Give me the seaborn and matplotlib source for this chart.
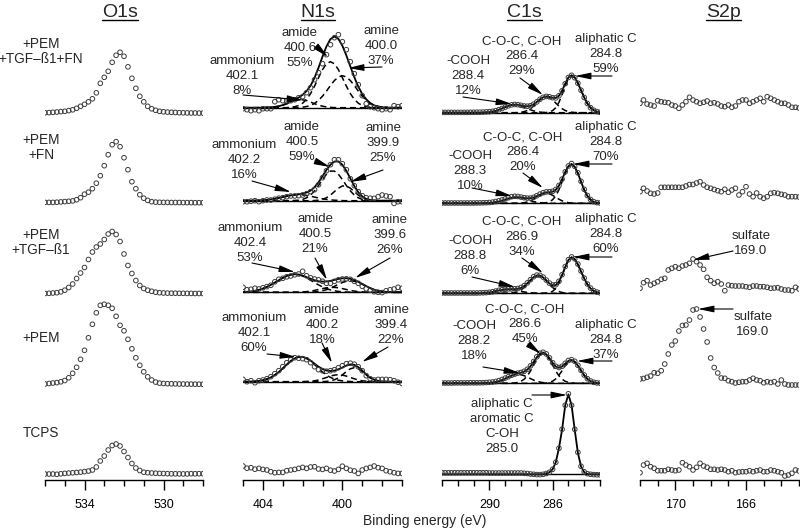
import numpy as np
import matplotlib
matplotlib.use("Agg")
import matplotlib.pyplot as plt
from matplotlib.lines import Line2D
import seaborn as sns

# binding energy grids (eV), 0.2 eV steps, high -> low
o1s_ev = np.linspace(536.0, 528.0, 41)
n1s_ev = np.linspace(405.0, 397.0, 41)
c1s_ev = np.linspace(293.0, 283.0, 51)
s2p_ev = np.linspace(172.0, 163.0, 46)

samples = ["+PEM\n+TGF–ß1+FN", "+PEM\n+FN", "+PEM\n+TGF–ß1", "+PEM", "TCPS"]

# ---------------- O1s (counts, arbitrary units) ----------------
o1s_fn_tgf = [0.5, 0.7, 1.0, 1.3, 1.7, 2.0, 2.7, 3.5, 5.0, 7.0,
              9.0, 11.5, 14.5, 20.5, 30.0, 36.0, 42.0, 51.0, 58.0, 61.0,
              57.0, 46.5, 35.0, 25.0, 17.0, 11.5, 7.0, 4.5, 3.0, 2.0,
              1.5, 1.2, 1.0, 0.8, 0.6, 0.5, 0.4, 0.3, 0.3, 0.2,
              0.2]
o1s_fn = [0.3, 0.3, 0.3, 0.5, 0.8, 1.1, 1.4, 1.8, 3.0, 5.0,
          8.5, 10.5, 14.0, 19.5, 27.0, 37.0, 48.0, 58.0, 61.0, 56.0,
          45.0, 33.0, 21.0, 14.0, 8.0, 4.5, 2.3, 1.0, 0.6, 0.4,
          0.3, 0.3, 0.2, 0.2, 0.2, 0.1, 0.1, 0.1, 0.0, 0.0,
          0.0]
o1s_tgf = [0.0, 0.2, 0.5, 0.8, 1.7, 3.3, 6.0, 9.5, 15.0, 20.5,
           26.0, 34.0, 41.5, 46.5, 49.5, 54.0, 59.5, 62.0, 59.0, 52.0,
           39.5, 28.0, 20.0, 13.0, 8.0, 5.0, 3.3, 2.2, 1.3, 0.8,
           0.5, 0.4, 0.3, 0.3, 0.2, 0.2, 0.1, 0.1, 0.0, 0.0,
           0.0]
o1s_pem = [0.3, 0.8, 1.3, 1.7, 2.5, 3.8, 6.5, 11.0, 17.0, 25.0,
           34.0, 46.5, 60.0, 71.5, 79.0, 80.0, 79.0, 76.0, 68.0, 59.0,
           53.5, 45.0, 35.5, 26.5, 19.0, 12.5, 7.5, 4.3, 2.2, 1.2,
           0.8, 0.6, 0.5, 0.4, 0.3, 0.3, 0.2, 0.2, 0.1, 0.1,
           0.0]
o1s_tcps = [0.0, 0.0, 0.0, -0.3, 0.2, 0.6, 0.9, 1.2, 1.5, 1.9,
            2.4, 3.0, 4.0, 7.0, 13.0, 18.0, 24.0, 28.5, 30.0, 28.0,
            22.5, 16.5, 10.5, 6.0, 3.5, 1.8, 1.3, 1.0, 0.8, 0.6,
            0.5, 0.3, 0.2, 0.2, 0.1, 0.1, 0.1, 0.3, 0.2, 0.3,
            0.3]

# ---------------- N1s ----------------
n1s_fn_tgf = [-1, -2, -3, -2, -3, -1, -1, -1, 6, 8,
              7, 7, 7, 8, 10, 11, 15, 20, 28, 35,
              44, 53, 63, 70, 73, 66, 58, 46, 34, 23,
              12, 4, 1, 0, -1, -2, -1, -2, 2, 1,
              2]
n1s_fn = [-1, -1, -0.5, 0, -1, 0, 0.7, 0.7, 1.5, 2.5,
          3, 4, 4.7, 4.7, 5, 5.7, 7, 9, 11, 16,
          23, 30, 36, 41, 41, 37, 31, 22, 15, 9,
          5, 3, 2.5, 2.3, 4, 5.7, 4.7, 4, -2.7, -1,
          -1]
n1s_tgf = [5, 2.5, 3, 4, 3.3, 4.5, 5.7, 7, 10.5, 13,
           14, 15.5, 16.3, 17.5, 18.3, 21, 16.5, 14.5, 13.3, 12.5,
           11, 9, 9, 11, 12.5, 13.3, 13.5, 13, 11, 9,
           6, 3.5, 2, 0.5, 0, -0.3, 1.5, 2.5, 3.3, 5,
           4]
n1s_pem = [2.3, 0, 1, -1, 1, 1.7, 3, 5, 8, 11,
           15, 19, 22, 24, 23.5, 23, 22, 19, 15, 12,
           11, 10.5, 11, 12, 14, 16, 18, 18.5, 17.5, 15,
           11, 6, 3, 1.7, 2.3, 2.3, 2.3, 2, 1, -0.5,
           -1.7]
n1s_tcps = [5.7, 3.5, 4, 2.5, 3.3, 2.3, 1.7, 0, -1, -0.7,
            -0.7, 1, 1.7, 2.3, 3.3, 4.3, 3.3, 4.7, 5, 2.7,
            2.3, 3.3, 1.5, 0.7, 2.3, 5.5, 3.3, 1.5, 0.7, -1.7,
            1.7, 3.3, 4.3, 5.7, 4, 3.3, 1, 0, -1, -1.7,
            -1.7]

# fitted N1s components: ammonium, amide, amine
n1s_amm_1 = [0, 0, 0, 0, 0, 0, 0.1, 0.4, 0.8, 1.5,
             2.6, 4.0, 5.7, 7.1, 7.9, 7.9, 7.1, 5.7, 4.0, 2.6,
             1.5, 0.8, 0.4, 0.1, 0, 0, 0, 0, 0, 0,
             0, 0, 0, 0, 0, 0, 0, 0, 0, 0,
             0]
n1s_amide_1 = [0, 0, 0, 0, 0, 0, 0, 0, 0, 0,
               0, 0, 0.4, 1.0, 2.2, 4.5, 8.4, 14.1, 21.6, 30.0,
               38.1, 43.9, 46.0, 43.9, 38.1, 30.0, 21.6, 14.1, 8.4, 4.5,
               2.2, 1.0, 0.4, 0, 0, 0, 0, 0, 0, 0,
               0]
n1s_amine_1 = [0, 0, 0, 0, 0, 0, 0, 0, 0, 0,
               0, 0, 0, 0, 0, 0.5, 1.2, 2.3, 4.3, 7.4,
               11.5, 16.6, 22.2, 27.2, 30.7, 32.0, 30.7, 27.2, 22.2, 16.6,
               11.5, 7.4, 4.3, 2.3, 1.2, 0.5, 0, 0, 0, 0,
               0]
n1s_amm_2 = [0, 0, 0, 0.1, 0.3, 0.5, 0.8, 1.3, 2.0, 2.7,
             3.6, 4.5, 5.3, 5.8, 6.0, 5.8, 5.3, 4.5, 3.6, 2.7,
             2.0, 1.3, 0.8, 0.5, 0.3, 0.1, 0, 0, 0, 0,
             0, 0, 0, 0, 0, 0, 0, 0, 0, 0,
             0]
n1s_amide_2 = [0, 0, 0, 0, 0, 0, 0, 0, 0, 0,
               0, 0, 0, 0.2, 0.5, 1.3, 2.9, 5.6, 9.8, 15.2,
               21.2, 26.5, 29.6, 29.6, 26.5, 21.2, 15.2, 9.8, 5.6, 2.9,
               1.3, 0.5, 0.2, 0, 0, 0, 0, 0, 0, 0,
               0]
n1s_amine_2 = [0, 0, 0, 0, 0, 0, 0, 0, 0, 0,
               0, 0, 0, 0, 0, 0, 0, 0, 0.2, 0.5,
               1.3, 3.0, 5.6, 9.1, 12.5, 14.7, 14.7, 12.5, 9.1, 5.6,
               3.0, 1.3, 0.5, 0.2, 0, 0, 0, 0, 0, 0,
               0]
n1s_amm_3 = [0.3, 0.5, 0.9, 1.5, 2.4, 3.7, 5.4, 7.4, 9.7, 12.1,
             14.4, 16.3, 17.6, 18.0, 17.6, 16.3, 14.4, 12.1, 9.7, 7.4,
             5.4, 3.7, 2.4, 1.5, 0.9, 0.5, 0.3, 0.1, 0, 0,
             0, 0, 0, 0, 0, 0, 0, 0, 0, 0,
             0]
n1s_amide_3 = [0, 0, 0, 0, 0, 0, 0, 0, 0, 0,
               0, 0, 0, 0.1, 0.2, 0.4, 0.7, 1.2, 1.9, 2.8,
               3.7, 4.5, 4.9, 4.9, 4.5, 3.7, 2.8, 1.9, 1.2, 0.7,
               0.4, 0.2, 0.1, 0, 0, 0, 0, 0, 0, 0,
               0]
n1s_amine_3 = [0, 0, 0, 0, 0, 0, 0, 0, 0, 0,
               0, 0, 0, 0, 0, 0, 0, 0.2, 0.4, 0.8,
               1.6, 2.6, 4.1, 6.0, 8.0, 9.8, 11.0, 11.5, 11.0, 9.8,
               8.0, 6.0, 4.1, 2.6, 1.6, 0.8, 0.4, 0.2, 0, 0,
               0]
n1s_amm_4 = [0, 0, 0.2, 0.4, 0.8, 1.5, 2.6, 4.3, 6.7, 9.7,
             13.3, 17.1, 20.6, 23.3, 24.8, 24.8, 23.3, 20.6, 17.1, 13.3,
             9.7, 6.7, 4.3, 2.6, 1.5, 0.8, 0.4, 0.2, 0, 0,
             0, 0, 0, 0, 0, 0, 0, 0, 0, 0,
             0]
n1s_amide_4 = [0, 0, 0, 0, 0, 0, 0, 0, 0, 0,
               0, 0, 0, 0, 0, 0.1, 0.2, 0.5, 0.9, 1.7,
               2.9, 4.2, 5.6, 6.6, 7.0, 6.6, 5.6, 4.2, 2.9, 1.7,
               0.9, 0.5, 0.2, 0.1, 0, 0, 0, 0, 0, 0,
               0]
n1s_amine_4 = [0, 0, 0, 0, 0, 0, 0, 0, 0, 0,
               0, 0, 0, 0, 0, 0, 0, 0, 0, 0,
               0.1, 0.3, 0.8, 1.9, 3.9, 6.8, 10.2, 12.9, 14.0, 12.9,
               10.2, 6.8, 3.9, 1.9, 0.8, 0.3, 0.1, 0, 0, 0,
               0]

n1s_peaks = [
    [("ammonium", 402.1, 8), ("amide", 400.6, 55), ("amine", 400.0, 37)],
    [("ammonium", 402.2, 16), ("amide", 400.5, 59), ("amine", 399.9, 25)],
    [("ammonium", 402.4, 53), ("amide", 400.5, 21), ("amine", 399.6, 26)],
    [("ammonium", 402.1, 60), ("amide", 400.2, 18), ("amine", 399.4, 22)],
]

# ---------------- C1s ----------------
c1s_fn_tgf = [0.3, 0.3, 0.3, 0.3, 0.3, 0.3, 0.3, 0.3, 0.3, 0.4,
              0.4, 0.5, 0.5, 0.6, 0.8, 1.0, 1.4, 2.0, 3.0, 4.2,
              5.6, 6.9, 7.8, 8.2, 8.0, 7.4, 6.7, 6.5, 7.0, 8.5,
              10.8, 13.4, 15.4, 16.3, 15.9, 15.0, 14.8, 17.0, 22.0, 29.0,
              35.2, 37.4, 35.0, 29.5, 22.5, 15.2, 9.2, 5.0, 2.5, 1.1,
              0.4]
c1s_fn = [0.3, 0.3, 0.3, 0.3, 0.3, 0.3, 0.3, 0.3, 0.3, 0.3,
          0.3, 0.4, 0.4, 0.5, 0.6, 0.8, 1.2, 1.8, 2.5, 3.4,
          4.4, 5.6, 6.6, 7.0, 6.8, 6.2, 5.6, 5.2, 5.2, 6.0,
          7.6, 9.2, 10.6, 11.4, 11.5, 12.0, 13.8, 17.8, 24.2, 31.5,
          37.3, 39.8, 37.0, 30.5, 22.0, 14.0, 7.8, 3.8, 1.6, 0.7,
          0.3]
c1s_tgf = [0.3, 0.3, 0.3, 0.3, 0.3, 0.3, 0.3, 0.3, 0.3, 0.3,
           0.3, 0.3, 0.4, 0.5, 0.7, 1.0, 1.5, 2.2, 3.0, 3.6,
           4.0, 4.4, 4.3, 4.5, 4.8, 5.8, 7.6, 10.4, 13.6, 16.6,
           18.2, 18.0, 16.2, 13.2, 10.2, 8.3, 8.6, 12.0, 18.6, 26.8,
           33.6, 36.4, 34.5, 29.2, 22.3, 15.2, 9.3, 5.2, 2.6, 1.2,
           0.5]
c1s_pem = [0.3, 0.3, 0.3, 0.3, 0.4, 0.4, 0.4, 0.4, 0.4, 0.5,
           0.5, 0.5, 0.5, 0.6, 0.8, 1.0, 1.3, 1.8, 2.7, 3.8,
           5.2, 6.6, 8.0, 9.2, 10.2, 10.8, 12.0, 14.0, 17.4, 21.8,
           26.5, 30.0, 31.0, 29.4, 25.4, 20.6, 17.0, 15.8, 17.0, 20.0,
           22.8, 23.6, 22.0, 18.0, 13.0, 8.3, 4.6, 2.3, 1.0, 0.4,
           0.2]
c1s_tcps = [1.5, 1.5, 1.5, 1.5, 1.5, 1.5, 1.5, 1.5, 1.5, 1.5,
            1.5, 1.5, 1.5, 1.5, 1.5, 1.3, 1.3, 1.3, 1.3, 1.3,
            1.3, 1.3, 1.3, 1.3, 1.3, 1.3, 1.0, 0.8, 0.3, 0.0,
            -0.3, -0.3, 0.0, 0.8, 2.0, 5.0, 12.0, 26.0, 45.0, 69.0,
            80.5, 69.0, 45.0, 22.0, 8.0, 2.5, 0.6, 0.0, -0.3, -0.5,
            -0.5]

# fitted C1s components: -COOH, C-O-C/C-OH, aliphatic C
c1s_cooh_1 = [0, 0, 0, 0, 0, 0, 0, 0, 0, 0,
              0, 0, 0, 0.1, 0.3, 0.6, 1.1, 1.8, 2.9, 4.2,
              5.5, 6.8, 7.7, 8.0, 7.7, 6.8, 5.5, 4.2, 2.9, 1.8,
              1.1, 0.6, 0.3, 0.1, 0, 0, 0, 0, 0, 0,
              0, 0, 0, 0, 0, 0, 0, 0, 0, 0,
              0]
c1s_coc_1 = [0, 0, 0, 0, 0, 0, 0, 0, 0, 0,
             0, 0, 0, 0, 0, 0, 0, 0, 0, 0,
             0, 0, 0, 0, 0.2, 0.5, 1.1, 2.2, 4.0, 6.6,
             9.7, 12.8, 15.1, 16.0, 15.1, 12.8, 9.7, 6.6, 4.0, 2.2,
             1.1, 0.5, 0.2, 0, 0, 0, 0, 0, 0, 0,
             0]
c1s_ali_1 = [0, 0, 0, 0, 0, 0, 0, 0, 0, 0,
             0, 0, 0, 0, 0, 0, 0, 0, 0, 0,
             0, 0, 0, 0, 0, 0, 0, 0, 0, 0,
             0, 0, 0, 0.2, 0.7, 2.1, 5.0, 10.3, 18.0, 26.9,
             34.2, 37.0, 35.1, 29.6, 22.5, 15.2, 9.2, 5.0, 2.5, 1.1,
             0.4]
c1s_cooh_2 = [0, 0, 0, 0, 0, 0, 0, 0, 0, 0,
              0, 0, 0, 0, 0.2, 0.3, 0.6, 1.1, 1.7, 2.6,
              3.6, 4.7, 5.5, 5.9, 5.9, 5.5, 4.7, 3.6, 2.6, 1.7,
              1.1, 0.6, 0.3, 0.2, 0, 0, 0, 0, 0, 0,
              0, 0, 0, 0, 0, 0, 0, 0, 0, 0,
              0]
c1s_coc_2 = [0, 0, 0, 0, 0, 0, 0, 0, 0, 0,
             0, 0, 0, 0, 0, 0, 0, 0, 0, 0,
             0, 0, 0, 0, 0.1, 0.3, 0.6, 1.4, 2.5, 4.1,
             6.1, 8.0, 9.5, 10.0, 9.5, 8.0, 6.1, 4.1, 2.5, 1.4,
             0.6, 0.3, 0.1, 0, 0, 0, 0, 0, 0, 0,
             0]
c1s_ali_2 = [0, 0, 0, 0, 0, 0, 0, 0, 0, 0,
             0, 0, 0, 0, 0, 0, 0, 0, 0, 0,
             0, 0, 0, 0, 0, 0, 0, 0, 0, 0,
             0, 0, 0.2, 0.6, 1.5, 3.6, 7.4, 13.5, 21.5, 30.0,
             36.5, 39.0, 36.5, 30.0, 21.5, 13.5, 7.4, 3.6, 1.5, 0.6,
             0.2]
c1s_cooh_3 = [0, 0, 0, 0, 0, 0, 0, 0, 0, 0,
              0, 0, 0.1, 0.3, 0.5, 0.9, 1.4, 2.1, 2.8, 3.4,
              3.8, 4.0, 3.8, 3.4, 2.8, 2.1, 1.4, 0.9, 0.5, 0.3,
              0.1, 0, 0, 0, 0, 0, 0, 0, 0, 0,
              0, 0, 0, 0, 0, 0, 0, 0, 0, 0,
              0]
c1s_coc_3 = [0, 0, 0, 0, 0, 0, 0, 0, 0, 0,
             0, 0, 0, 0, 0, 0, 0, 0, 0, 0,
             0, 0.1, 0.3, 0.8, 1.7, 3.3, 5.9, 9.1, 12.7, 15.9,
             17.7, 17.7, 15.9, 12.7, 9.1, 5.9, 3.3, 1.7, 0.8, 0.3,
             0.1, 0, 0, 0, 0, 0, 0, 0, 0, 0,
             0]
c1s_ali_3 = [0, 0, 0, 0, 0, 0, 0, 0, 0, 0,
             0, 0, 0, 0, 0, 0, 0, 0, 0, 0,
             0, 0, 0, 0, 0, 0, 0, 0, 0, 0,
             0, 0, 0, 0.2, 0.7, 2.0, 4.9, 10.0, 17.5, 26.1,
             33.2, 36.0, 34.1, 28.8, 21.9, 14.8, 9.0, 4.9, 2.4, 1.0,
             0.4]
c1s_cooh_4 = [0, 0, 0, 0, 0, 0, 0, 0, 0, 0,
              0, 0, 0, 0.1, 0.2, 0.3, 0.7, 1.2, 2.1, 3.2,
              4.7, 6.2, 7.6, 8.6, 9.0, 8.6, 7.6, 6.2, 4.7, 3.2,
              2.1, 1.2, 0.7, 0.3, 0.2, 0.1, 0, 0, 0, 0,
              0, 0, 0, 0, 0, 0, 0, 0, 0, 0,
              0]
c1s_coc_4 = [0, 0, 0, 0, 0, 0, 0, 0, 0, 0,
             0, 0, 0, 0, 0, 0, 0, 0, 0, 0,
             0, 0, 0.1, 0.3, 0.9, 2.0, 4.1, 7.5, 12.3, 18.2,
             24.0, 28.4, 30.0, 28.4, 24.0, 18.2, 12.3, 7.5, 4.1, 2.0,
             0.9, 0.3, 0.1, 0, 0, 0, 0, 0, 0, 0,
             0]
c1s_ali_4 = [0, 0, 0, 0, 0, 0, 0, 0, 0, 0,
             0, 0, 0, 0, 0, 0, 0, 0, 0, 0,
             0, 0, 0, 0, 0, 0, 0, 0, 0, 0,
             0, 0, 0.1, 0.3, 0.9, 2.1, 4.4, 8.0, 12.7, 17.7,
             21.5, 23.0, 21.5, 17.7, 12.7, 8.0, 4.4, 2.1, 0.9, 0.3,
             0.1]
c1s_fit_tcps = [0, 0, 0, 0, 0, 0, 0, 0, 0, 0,
                0, 0, 0, 0, 0, 0, 0, 0, 0, 0,
                0, 0, 0, 0, 0, 0, 0, 0, 0, 0,
                0, 0, 0, 1.0, 2.0, 5.0, 12.0, 26.0, 44.6, 69.1,
                80.0, 69.1, 44.6, 21.5, 7.8, 2.1, 0.4, 0, 0, 0,
                0]

c1s_peaks = [
    [("-COOH", 288.4, 12), ("C-O-C, C-OH", 286.4, 29), ("aliphatic C", 284.8, 59)],
    [("-COOH", 288.3, 10), ("C-O-C, C-OH", 286.4, 20), ("aliphatic C", 284.8, 70)],
    [("-COOH", 288.8, 6), ("C-O-C, C-OH", 286.9, 34), ("aliphatic C", 284.8, 60)],
    [("-COOH", 288.2, 18), ("C-O-C, C-OH", 286.6, 45), ("aliphatic C", 284.8, 37)],
]
c1s_tcps_label = "aliphatic C\naromatic C\nC-OH\n285.0"

# ---------------- S2p ----------------
s2p_fn_tgf = [6.7, 10, 6, 5, 4, 9.3, 8.3, 7.7, 7.3, 5,
              4, 1.7, 5, 8.3, 12.7, 10, 8.3, 6.7, 7.7, 9,
              6.7, 7.3, 6, 4, 3.3, 5, 2.7, 4, 8.3, 10,
              10, 6.7, 8.3, 10, 11.7, 8.3, 13.3, 11.7, 10, 8.3,
              6.7, 6.7, 5, 2.7, 2.7, 2]
s2p_fn = [8.3, 11.7, 9, 6.7, 6, 7, 12.7, 12.7, 12.7, 12.7,
          12.7, 12.7, 12.7, 14, 15.5, 15.5, 17, 18.3, 15, 12.7,
          11.7, 10.5, 9.3, 8.3, 10.7, 7.7, 10, 11.7, 5, 8.3,
          13.3, 6, 3.3, 7, 3.3, 1.7, 3.3, 6.7, 7.3, 6.7,
          5.7, 5, 3.3, 3.3, 3.3, 3]
s2p_tgf = [3.7, 9.3, 11.3, 7, 8.7, 10.3, 12.7, 13.7, 22, 23.7,
           25.3, 23.7, 26, 27, 28.7, 33, 30.3, 27, 22.7, 14.7,
           11.3, 8.7, 10.3, 8, 1.3, 7, 6.3, 6, 6, 6,
           5.3, 4.7, 6, 6, 5.3, 5.3, 4.7, 3.7, 4, 4.3,
           3, 2, 2, 1.3, 4.7, 3]
s2p_pem = [5, 5.5, 6.7, 8, 11.3, 10.7, 13.3, 20, 30, 39,
           43, 53, 58.5, 59, 64, 74, 75, 67, 55, 42,
           26, 16.5, 11, 6, 5.7, 3.3, 2.3, 1, 1.7, 2.3,
           2.3, 4, 5.7, 4, 3.3, 1.3, 2.3, 1.5, 2.3, 0,
           4, 0, -1, -1, -1, -1]
s2p_tcps = [2.3, 10, 11.7, 8.3, 6.7, 4.3, 4.3, 4.3, 5.7, 5,
            4.3, 5, 12.3, 10, 8.3, 5, 7.7, 11.7, 9, 7.7,
            5.7, 5.7, 5, 5.7, 5, 3.3, 4.3, 2.3, 3, 3.3,
            3.3, 4.3, 3.3, 4.3, 5, 3.3, 3.3, 5, 4.3, 3.3,
            2.3, -1, 0, 1.7, 5, 4]
sulfate_ev = 169.0

# ---------------- layout (pixels from top-left of an 800x531 canvas) ----------------
W, H = 800, 531
AXIS_Y = 480
LINE_STEP = 15
base_o1s = [113.3, 202.7, 293.5, 384.3, 474.0]
base_n1s = [107.7, 200.7, 292.3, 381.7, 471.7]
base_c1s = [112.7, 203.3, 293.3, 383.3, 474.3]
base_s2p = [110.0, 200.0, 292.0, 384.0, 475.0]

sns.set_theme(style="ticks")
plt.rcParams["font.family"] = ["Liberation Sans", "DejaVu Sans"]

fig = plt.figure(figsize=(W / 100, H / 100), dpi=100)


def fpx(x, y):
    return (x, H - y)


def make_axes(left, width, xlim, major, minor):
    ax = fig.add_axes([left / W, (H - AXIS_Y) / H, width / W, AXIS_Y / H])
    ax.set_xlim(*xlim)
    ax.set_ylim(0, AXIS_Y)
    for s in ["left", "top", "right"]:
        ax.spines[s].set_visible(False)
    ax.spines["bottom"].set_linewidth(1.0)
    ax.spines["bottom"].set_color("black")
    ax.set_yticks([])
    ax.set_xticks(major)
    ax.set_xticklabels([str(m) for m in major], fontsize=9)
    ax.set_xticks(minor, minor=True)
    ax.tick_params(axis="x", which="major", bottom=True, direction="out",
                   length=7, width=1, pad=7, colors="black")
    ax.tick_params(axis="x", which="minor", bottom=True, direction="out",
                   length=4, width=1, colors="black")
    ax.patch.set_alpha(0)
    return ax


def draw_points(ax, ev, vals, base):
    off = AXIS_Y - base
    sns.scatterplot(x=ev, y=np.asarray(vals, float) + off, ax=ax, marker="o", s=11,
                    facecolors="none", edgecolor="#3c3c3c", linewidth=0.7,
                    legend=False, zorder=3)


def draw_fit(ax, ev, comps, base, dashed=True):
    off = AXIS_Y - base
    sns.lineplot(x=[ev[0], ev[-1]], y=[off, off], ax=ax, color="black", lw=1.0,
                 estimator=None, sort=False)
    if dashed:
        for c in comps:
            sns.lineplot(x=ev, y=np.asarray(c, float) + off, ax=ax, color="black",
                         lw=1.1, estimator=None, sort=False)
            ax.lines[-1].set_dashes([4, 2.5])
    env = np.sum(np.asarray(comps, float), axis=0)
    sns.lineplot(x=ev, y=env + off, ax=ax, color="black", lw=1.3,
                 estimator=None, sort=False)


def text_lines(txt, cx, cy, fs):
    # one text per line, 15 px apart, block centred on cy
    lines = txt.split("\n")
    n = len(lines)
    for k, s in enumerate(lines):
        y = cy + (k - (n - 1) / 2) * LINE_STEP
        fig.text(cx / W, 1 - y / H, s, ha="center", va="center", fontsize=fs)


def label(ax, txt, center, tail=None, tip=None, fs=9.5):
    text_lines(txt, center[0], center[1], fs)
    if tail is not None:
        ax.annotate("", xy=fpx(*tip), xytext=fpx(*tail), xycoords="figure pixels",
                    textcoords="figure pixels", annotation_clip=False,
                    arrowprops=dict(arrowstyle="-|>,head_length=0.95,head_width=0.2",
                                    color="black", lw=0.8, shrinkA=0, shrinkB=0,
                                    mutation_scale=10))


ax_o = make_axes(45, 158, (536, 528), [534, 530], np.arange(528, 537))
ax_n = make_axes(243, 159, (405, 397), [404, 400], np.arange(397, 406))
ax_c = make_axes(442, 158, (293, 283), [290, 286], np.arange(283, 294))
ax_s = make_axes(640, 159, (172, 163), [170, 166], np.arange(163, 173))

# O1s
for vals, b in zip([o1s_fn_tgf, o1s_fn, o1s_tgf, o1s_pem, o1s_tcps], base_o1s):
    draw_points(ax_o, o1s_ev, vals, b)

# N1s
n1s_data = [n1s_fn_tgf, n1s_fn, n1s_tgf, n1s_pem]
n1s_comps = [[n1s_amm_1, n1s_amide_1, n1s_amine_1],
             [n1s_amm_2, n1s_amide_2, n1s_amine_2],
             [n1s_amm_3, n1s_amide_3, n1s_amine_3],
             [n1s_amm_4, n1s_amide_4, n1s_amine_4]]
for vals, comps, b in zip(n1s_data, n1s_comps, base_n1s):
    draw_fit(ax_n, n1s_ev, comps, b)
    draw_points(ax_n, n1s_ev, vals, b)
draw_points(ax_n, n1s_ev, n1s_tcps, base_n1s[4])

# C1s
c1s_data = [c1s_fn_tgf, c1s_fn, c1s_tgf, c1s_pem]
c1s_comps = [[c1s_cooh_1, c1s_coc_1, c1s_ali_1],
             [c1s_cooh_2, c1s_coc_2, c1s_ali_2],
             [c1s_cooh_3, c1s_coc_3, c1s_ali_3],
             [c1s_cooh_4, c1s_coc_4, c1s_ali_4]]
for vals, comps, b in zip(c1s_data, c1s_comps, base_c1s):
    draw_fit(ax_c, c1s_ev, comps, b)
    draw_points(ax_c, c1s_ev, vals, b)
draw_fit(ax_c, c1s_ev, [c1s_fit_tcps], base_c1s[4], dashed=False)
draw_points(ax_c, c1s_ev, c1s_tcps, base_c1s[4])

# S2p
for vals, b in zip([s2p_fn_tgf, s2p_fn, s2p_tgf, s2p_pem, s2p_tcps], base_s2p):
    draw_points(ax_s, s2p_ev, vals, b)

# peak annotations: (text centre, arrow tail, arrow tip)
n1s_lay = [
    [((242, 76), (243, 95), (303, 100)), ((300, 48), (317, 47), (328, 57)), ((381, 46), (382, 67), (348, 68))],
    [((244, 160), (252, 181), (291, 192)), ((302, 142), (315, 161), (330, 167)), ((383, 143), (383, 170), (350, 182))],
    [((250, 243), (252, 263), (295, 272)), ((315, 234), (315, 258), (327, 280)), ((390, 235), (390, 258), (355, 278))],
    [((254, 333), (267, 354), (296, 357)), ((322, 325), (322, 343), (332, 363)), ((391, 325), (388, 347), (362, 362))],
]
c1s_lay = [
    [((468, 76), (463, 97), (512, 104)), ((522, 56), (520, 78), (543, 95)), ((606, 54), (612, 76), (575, 76))],
    [((470, 171), (472, 188), (512, 196)), ((523, 152), (523, 173), (543, 188)), ((606, 142), (612, 164), (573, 164))],
    [((470, 256), (472, 277), (515, 287)), ((522, 237), (522, 258), (543, 273)), ((606, 234), (612, 257), (573, 257))],
    [((474, 341), (483, 367), (520, 373)), ((525, 324), (528, 344), (541, 354)), ((606, 340), (612, 361), (577, 361))],
]
for peaks, lays in zip(n1s_peaks, n1s_lay):
    for (name, ev, pct), (c, t0, t1) in zip(peaks, lays):
        label(ax_n, f"{name}\n{ev:.1f}\n{pct}%", c, t0, t1)
for peaks, lays in zip(c1s_peaks, c1s_lay):
    for (name, ev, pct), (c, t0, t1) in zip(peaks, lays):
        label(ax_c, f"{name}\n{ev:.1f}\n{pct}%", c, t0, t1)
label(ax_c, c1s_tcps_label, (502, 426.5), (532, 395), (567, 395))
label(ax_s, f"sulfate\n{sulfate_ev:.1f}", (751, 243.5), (733, 251), (693, 260))
label(ax_s, f"sulfate\n{sulfate_ev:.1f}", (753, 324.5), (733, 309), (698, 309))

# sample names
for name, y in zip(samples, [51.5, 147.5, 242.5, 338, 433]):
    text_lines(name, 41, y, 9.8)

# core-level titles, underlined
titles = []
for name, x in zip(["O1s", "N1s", "C1s", "S2p"], [120, 318, 524.5, 723.3]):
    titles.append(fig.text(x / W, 1 - 17 / H, name, ha="center", va="baseline", fontsize=14))
fig.canvas.draw()
rend = fig.canvas.get_renderer()
for t in titles:
    bb = t.get_window_extent(rend)
    y = (H - 19.5) / H
    fig.add_artist(Line2D([bb.x0 / W, bb.x1 / W], [y, y], transform=fig.transFigure,
                          color="black", lw=1.0))

fig.text(425 / W, 1 - 521 / H, "Binding energy (eV)", ha="center", va="center", fontsize=10)

fig.savefig("out.png", dpi=100)
